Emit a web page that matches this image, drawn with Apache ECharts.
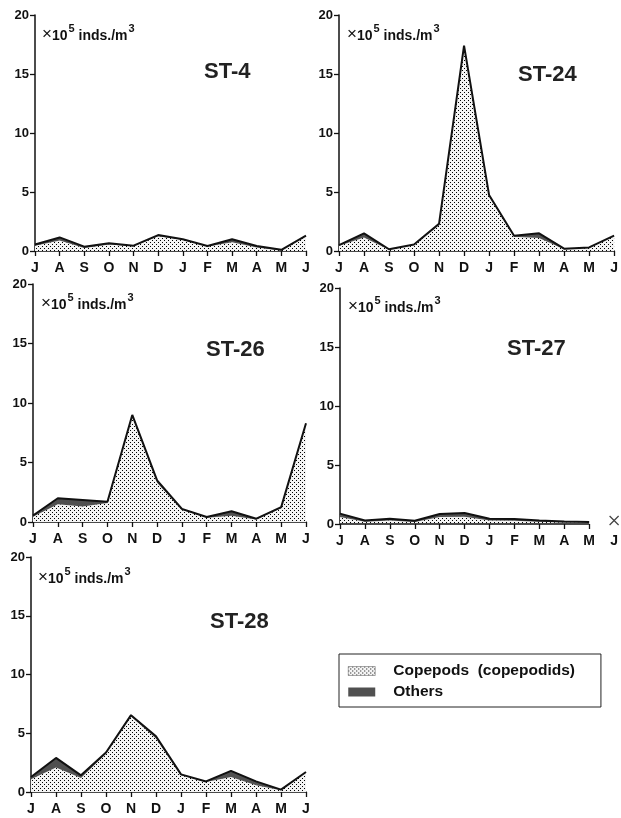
<!DOCTYPE html>
<html>
<head>
<meta charset="utf-8">
<script src="https://cdn.jsdelivr.net/npm/echarts@6/dist/echarts.min.js"></script>
<style>
  html, body { margin: 0; padding: 0; background: #fff; }
  #chart { width: 621px; height: 818px; }
</style>
</head>
<body>
<div id="chart"></div>
<script>
// Month labels along every x axis (July to the following June)
const months = ['J', 'A', 'S', 'O', 'N', 'D', 'J', 'F', 'M', 'A', 'M', 'J'];

// Density, x10^5 individuals per m^3
const st4Copepods  = [0.45, 0.90, 0.25, 0.55, 0.40, 1.25, 0.95, 0.38, 0.75, 0.30, 0.05, 1.25];
const st4Others    = [0.10, 0.25, 0.12, 0.10, 0.05, 0.10, 0.05, 0.04, 0.25, 0.12, 0.05, 0.05];

const st24Copepods = [0.45, 1.15, 0.10, 0.50, 2.25, 17.3, 4.65, 1.20, 1.10, 0.15, 0.25, 1.25];
const st24Others   = [0.05, 0.35, 0.05, 0.05, 0.05, 0.10, 0.10, 0.10, 0.40, 0.05, 0.05, 0.05];

const st26Copepods = [0.45, 1.50, 1.30, 1.60, 8.90, 3.30, 1.00, 0.35, 0.53, 0.20, 1.15, 8.20];
const st26Others   = [0.10, 0.50, 0.55, 0.10, 0.10, 0.20, 0.10, 0.07, 0.37, 0.08, 0.10, 0.10];

const st27Copepods = [0.60, 0.20, 0.30, 0.18, 0.60, 0.62, 0.30, 0.28, 0.20, 0.12, 0.08, null];
const st27Others   = [0.28, 0.10, 0.15, 0.10, 0.25, 0.31, 0.15, 0.14, 0.10, 0.10, 0.09, null];
// June at ST-27 was not sampled: drawn as a cross
const st27Missing  = [null, null, null, null, null, null, null, null, null, null, null, 0.3];

const st28Copepods = [1.08, 2.08, 1.20, 3.26, 6.45, 4.55, 1.42, 0.85, 1.28, 0.57, 0.15, 1.65];
const st28Others   = [0.20, 0.82, 0.22, 0.10, 0.09, 0.20, 0.08, 0.05, 0.52, 0.33, 0.05, 0.05];

const yTickValues = [0, 5, 10, 15, 20];

// Stipple fill for the copepod area (diagonal dot lattice)
function stipple() {
  const c = document.createElement('canvas');
  c.width = 4; c.height = 4;
  const g = c.getContext('2d');
  g.fillStyle = '#f4f4f4';
  g.fillRect(0, 0, 4, 4);
  g.fillStyle = '#000000';
  g.fillRect(0, 0, 1, 1);
  g.fillRect(2, 2, 1, 1);
  return c;
}
const dotFill = { image: stipple(), repeat: 'repeat' };
const darkFill = '#505050';
const FONT = 'Liberation Sans, Arial, Helvetica, sans-serif';

const panels = [
  { name: 'ST-4',  cop: st4Copepods,  oth: st4Others,  grid: { left: 35,  top: 15,  width: 271, height: 236 }, title: [204, 72], unit: [42, 33] },
  { name: 'ST-24', cop: st24Copepods, oth: st24Others, grid: { left: 339, top: 15,  width: 278, height: 236 }, title: [518, 75], unit: [347, 33] },
  { name: 'ST-26', cop: st26Copepods, oth: st26Others, grid: { left: 33,  top: 284, width: 273, height: 238 }, title: [206, 350], unit: [41, 302] },
  { name: 'ST-27', cop: st27Copepods, oth: st27Others, grid: { left: 340, top: 288, width: 277, height: 236 }, title: [507, 349], unit: [348, 305], missing: st27Missing, shortAxis: true },
  { name: 'ST-28', cop: st28Copepods, oth: st28Others, grid: { left: 31,  top: 557, width: 275, height: 235 }, title: [210, 622], unit: [38, 576] }
];

const grids = [], xAxes = [], yAxes = [], series = [], graphics = [];

panels.forEach((p, i) => {
  grids.push(p.grid);
  xAxes.push({
    type: 'category', gridIndex: i, data: months, boundaryGap: false,
    axisLine: { show: !p.shortAxis, lineStyle: { color: '#111', width: 1.5 } },
    axisTick: {
      show: true, length: 5, lineStyle: { color: '#111', width: 1.3 },
      interval: p.shortAxis ? (idx) => idx < 11 : 0
    },
    axisLabel: { interval: 0, margin: 10, color: '#111', fontFamily: FONT, fontWeight: 'bold', fontSize: 14 },
    splitLine: { show: false }
  });
  yAxes.push({
    type: 'value', gridIndex: i, min: yTickValues[0], max: yTickValues[yTickValues.length - 1], interval: 5,
    axisLine: { show: true, lineStyle: { color: '#111', width: 1.5 } },
    axisTick: { show: true, length: 5, lineStyle: { color: '#111', width: 1.3 } },
    axisLabel: { margin: 6, color: '#111', fontFamily: FONT, fontWeight: 'bold', fontSize: 13 },
    splitLine: { show: false }
  });
  const copSeries = {
    name: 'Copepods  (copepodids)', type: 'line', xAxisIndex: i, yAxisIndex: i,
    stack: 'total' + i, data: p.cop, symbol: 'none', silent: true,
    lineStyle: { width: 0 }, areaStyle: { color: dotFill, opacity: 1 }
  };
  if (p.shortAxis) {
    // baseline that stops at the last sampled month
    copSeries.markLine = {
      silent: true, symbol: 'none', label: { show: false },
      lineStyle: { color: '#111', width: 1.5, type: 'solid' },
      data: [[{ coord: [0, 0] }, { coord: [10, 0] }]]
    };
  }
  series.push(copSeries);
  series.push({
    name: 'Others', type: 'line', xAxisIndex: i, yAxisIndex: i,
    stack: 'total' + i, data: p.oth, symbol: 'none', silent: true,
    lineStyle: { width: 2, color: '#111' }, areaStyle: { color: darkFill, opacity: 1 }
  });
  if (p.missing) {
    series.push({
      type: 'scatter', xAxisIndex: i, yAxisIndex: i, data: p.missing, silent: true,
      symbol: 'path://M0,0L10,10M10,0L0,10', symbolSize: 9,
      itemStyle: { color: 'none', borderColor: '#111', borderWidth: 1.2 }
    });
  }
  graphics.push({
    type: 'text', x: p.title[0], y: p.title[1],
    style: { text: p.name, font: 'bold 22px ' + FONT, fill: '#222', textVerticalAlign: 'middle' }
  });
  graphics.push({
    type: 'text', x: p.unit[0], y: p.unit[1],
    style: {
      text: '{x|×}{a|10}{s|5}{a| inds./m}{s|3}',
      textVerticalAlign: 'middle',
      rich: {
        x: { fontFamily: FONT, fontSize: 17, fill: '#111', lineHeight: 20, verticalAlign: 'bottom' },
        a: { fontFamily: FONT, fontWeight: 'bold', fontSize: 14, fill: '#111', lineHeight: 20, verticalAlign: 'bottom' },
        s: { fontFamily: FONT, fontWeight: 'bold', fontSize: 11, fill: '#111', lineHeight: 20, verticalAlign: 'top', padding: [0, 0, 0, 1] }
      }
    }
  });
});

const chart = echarts.init(document.getElementById('chart'), null, { renderer: 'canvas' });
chart.setOption({
  animation: false,
  backgroundColor: '#ffffff',
  grid: grids,
  xAxis: xAxes,
  yAxis: yAxes,
  series: series,
  graphic: graphics,
  legend: {
    orient: 'vertical', left: 339, top: 654,
    padding: [9, 26, 7, 9], itemGap: 5, itemWidth: 27, itemHeight: 9,
    borderColor: '#222', borderWidth: 1, selectedMode: false,
    textStyle: { fontFamily: FONT, fontWeight: 'bold', fontSize: 15.5, color: '#111', padding: [0, 0, 0, 13], lineHeight: 16 },
    data: [
      { name: 'Copepods  (copepodids)', icon: 'rect', itemStyle: { color: dotFill, borderColor: '#555', borderWidth: 0.5 } },
      { name: 'Others', icon: 'rect', itemStyle: { color: darkFill, borderWidth: 0 } }
    ]
  }
});
</script>
</body>
</html>
